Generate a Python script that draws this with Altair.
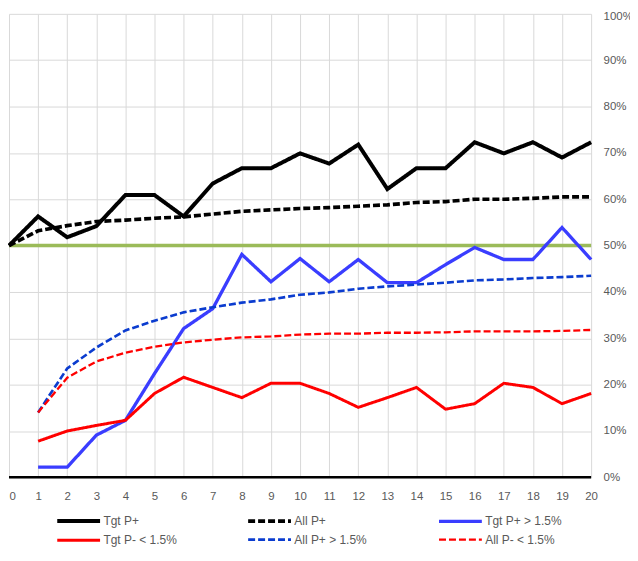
import altair as alt
import pandas as pd

x_vals = list(range(0, 21))
series_names = ["Tgt P+", "All P+", "Tgt P+ > 1.5%", "Tgt P- < 1.5%", "All P+ > 1.5%", "All P- < 1.5%"]

tgt_p_plus = [50.0, 56.3, 51.8, 54.2, 60.9, 60.9, 56.3, 63.4, 66.7, 66.7, 69.9,
              67.7, 71.8, 62.2, 66.7, 66.7, 72.3, 69.9, 72.3, 69.0, 72.3]
all_p_plus = [50.0, 53.2, 54.3, 55.2, 55.5, 55.9, 56.2, 56.8, 57.4, 57.7, 58.0,
              58.2, 58.5, 58.8, 59.3, 59.5, 60.0, 60.0, 60.2, 60.5, 60.5]
# series below start at x = 1
tgt_p_plus_15 = [2.2, 2.2, 9.1, 12.3, 22.4, 32.1, 36.4, 48.1, 42.2, 47.2,
                 42.2, 47.0, 42.0, 42.0, 45.9, 49.6, 47.0, 47.0, 53.9, 47.0]
tgt_p_minus_15 = [7.8, 10.0, 11.2, 12.3, 18.1, 21.6, 19.4, 17.2, 20.3, 20.3,
                  18.1, 15.1, 17.2, 19.4, 14.7, 15.9, 20.3, 19.4, 15.9, 18.1]
all_p_plus_15 = [14.0, 23.5, 28.0, 31.7, 33.8, 35.6, 36.7, 37.7, 38.4, 39.4,
                 39.9, 40.7, 41.2, 41.6, 42.0, 42.5, 42.7, 43.0, 43.2, 43.5]
all_p_minus_15 = [14.0, 21.5, 25.0, 26.9, 28.2, 29.1, 29.7, 30.2, 30.4, 30.8,
                  31.0, 31.0, 31.2, 31.2, 31.3, 31.5, 31.5, 31.5, 31.6, 31.8]
target_level = [50.0]

series_values = [tgt_p_plus, all_p_plus, tgt_p_plus_15, tgt_p_minus_15, all_p_plus_15, all_p_minus_15]
colors = ["#000000", "#000000", "#3A3DFF", "#FF0000", "#0B3CCF", "#FF0000"]
dashes = [[1, 0], [7, 3], [1, 0], [1, 0], [7, 3], [7, 3]]
widths = [4, 2.3, 4, 4, 2.3, 2.3]

rows = []
for name, vals in zip(series_names, series_values):
    xs = x_vals[-len(vals):]
    for xv, v in zip(xs, vals):
        rows.append({"series": name, "x": xv, "v": v / 100.0})
df = pd.DataFrame(rows)

FONT = "Liberation Sans"
GREY = "#595959"
yscale = alt.Scale(domain=[0, 1], nice=False)

x_enc = alt.X("x:Q",
              scale=alt.Scale(domain=[0, 20], nice=False, zero=False),
              axis=alt.Axis(values=x_vals, title=None, grid=True, gridColor="#D9D9D9",
                            gridWidth=1, ticks=False, domain=False, labelFont=FONT,
                            labelFontSize=11.5, labelColor=GREY, labelPadding=13,
                            labelFlush=False,
                            labelAlign={"condition": {"test": "datum.value == 0", "value": "left"},
                                        "value": "center"}))
y_enc = alt.Y("v:Q", scale=yscale,
              axis=alt.Axis(orient="right", values=[i / 10 for i in range(11)], format=".0%",
                            title=None, grid=True, gridColor="#D9D9D9", gridWidth=1,
                            ticks=False, domain=False, labelFont=FONT, labelFontSize=11.5,
                            labelColor=GREY, labelPadding=12,
                            labelOffset={"condition": {"test": "datum.value == 1", "value": 3},
                                         "value": 0}))

green = alt.Chart(pd.DataFrame({"v": [t / 100.0 for t in target_level]})).mark_rule(
    color="#9BBB59", strokeWidth=3.5).encode(y=alt.Y("v:Q", scale=yscale))

baseline = alt.Chart(pd.DataFrame({"v": [0.0]})).mark_rule(
    color="#000000", strokeWidth=2.5).encode(y=alt.Y("v:Q", scale=yscale))

lines = alt.Chart(df).mark_line(strokeCap="butt", strokeJoin="miter").encode(
    x=x_enc,
    y=y_enc,
    color=alt.Color("series:N", scale=alt.Scale(domain=series_names, range=colors),
                    legend=alt.Legend(title=None)),
    strokeDash=alt.StrokeDash("series:N", scale=alt.Scale(domain=series_names, range=dashes),
                              legend=alt.Legend(title=None)),
    strokeWidth=alt.StrokeWidth("series:N", scale=alt.Scale(domain=series_names, range=widths),
                                legend=alt.Legend(title=None)),
)

chart = alt.layer(green, lines, baseline).properties(
    width=584, height=465,
    autosize=alt.AutoSizeParams(type="none"),
    padding={"left": 1, "top": 5, "right": 39, "bottom": 70},
).configure_view(stroke=None).configure_legend(
    orient="none", legendX=72.7, legendY=499, columns=3, direction="horizontal",
    symbolType="M-4.72,0H1.28", symbolSize=205, labelFont=FONT, labelFontSize=12,
    labelColor=GREY, columnPadding=60.5, rowPadding=2, labelOffset=3,
    gridAlign="all", padding=0,
)

chart.save("out.html", embed_options={"renderer": "svg", "actions": False})
